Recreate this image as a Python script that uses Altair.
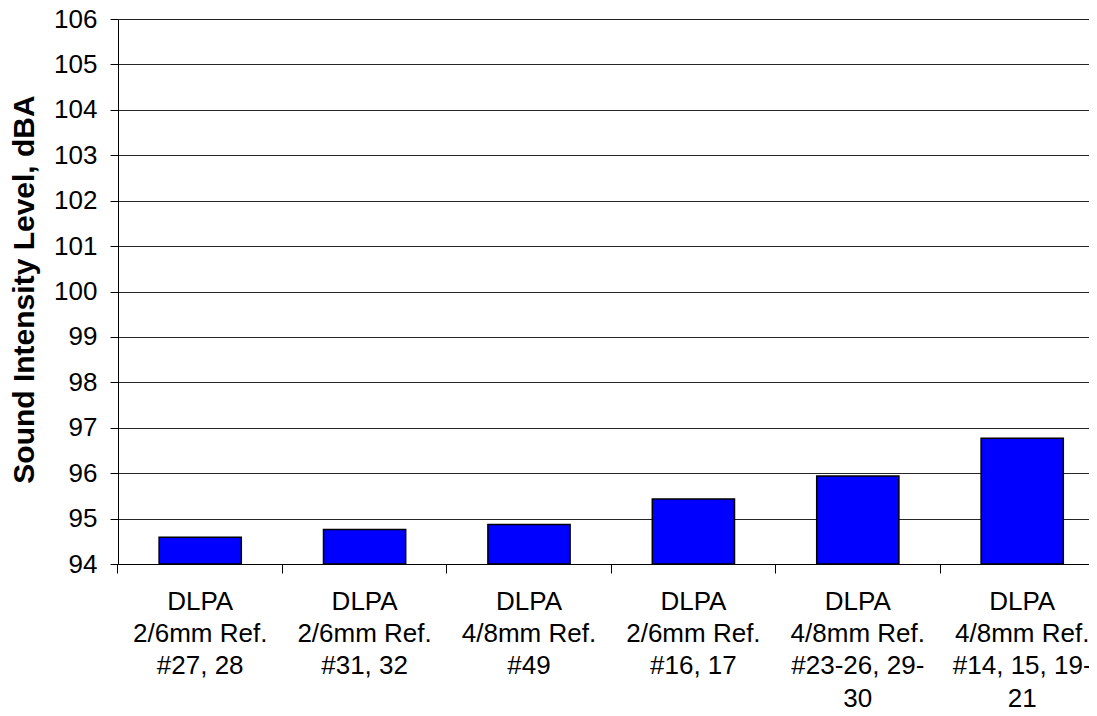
import altair as alt
import pandas as pd

categories = [
    "DLPA\n2/6mm Ref.\n#27, 28",
    "DLPA\n2/6mm Ref.\n#31, 32",
    "DLPA\n4/8mm Ref.\n#49",
    "DLPA\n2/6mm Ref.\n#16, 17",
    "DLPA\n4/8mm Ref.\n#23-26, 29-\n30",
    "DLPA\n4/8mm Ref.\n#14, 15, 19-\n21",
]
values = [94.59, 94.76, 94.87, 95.43, 95.94, 96.77]
y_ticks = list(range(94, 107))

df = pd.DataFrame({"cat": categories, "val": values})

FONT = "Liberation Sans"
W, H = 971, 545

xscale = alt.Scale(range=[0, 986.4], paddingInner=0, paddingOuter=0)

bars = alt.Chart(df).mark_bar(
    width=alt.RelativeBandSize(0.5), color="#0000FF", stroke="black", strokeWidth=1.5
).encode(
    x=alt.X("cat:N", sort=categories, scale=xscale,
            axis=alt.Axis(labels=False, title=None, tickSize=9, tickColor="black",
                          domainColor="black", bandPosition=0, grid=False)),
    y=alt.Y("val:Q", scale=alt.Scale(domain=[94, 106], nice=False, zero=False),
            axis=alt.Axis(values=y_ticks, tickSize=8, labelPadding=13, labelFontSize=26,
                          labelFont=FONT, labelColor="black", grid=True, gridColor="black",
                          gridWidth=1, gridOpacity=0.85, domainColor="black", tickColor="black",
                          title="Sound Intensity Level, dBA", titleFont=FONT, titleFontSize=30,
                          titleFontWeight="bold", titleColor="black", titleX=-85, titleY=270,
                          titleBaseline="alphabetic", titleAlign="center")),
    y2=alt.datum(94),
)

labels = alt.Chart(df).mark_text(
    lineBreak="\n", fontSize=26, font=FONT, baseline="alphabetic", align="center",
    lineHeight=32.2, color="black"
).encode(
    x=alt.X("cat:N", sort=categories, scale=xscale),
    text="cat:N",
    y=alt.value(591),
)

chart = alt.layer(bars, labels).properties(
    width=W, height=H,
    autosize=alt.AutoSizeParams(type="none"),
    padding={"left": 110, "top": 11, "right": 0, "bottom": 144},
).configure_view(strokeWidth=0).configure(background="white")

chart.save("out.html", embed_options={"renderer": "svg", "actions": False})
